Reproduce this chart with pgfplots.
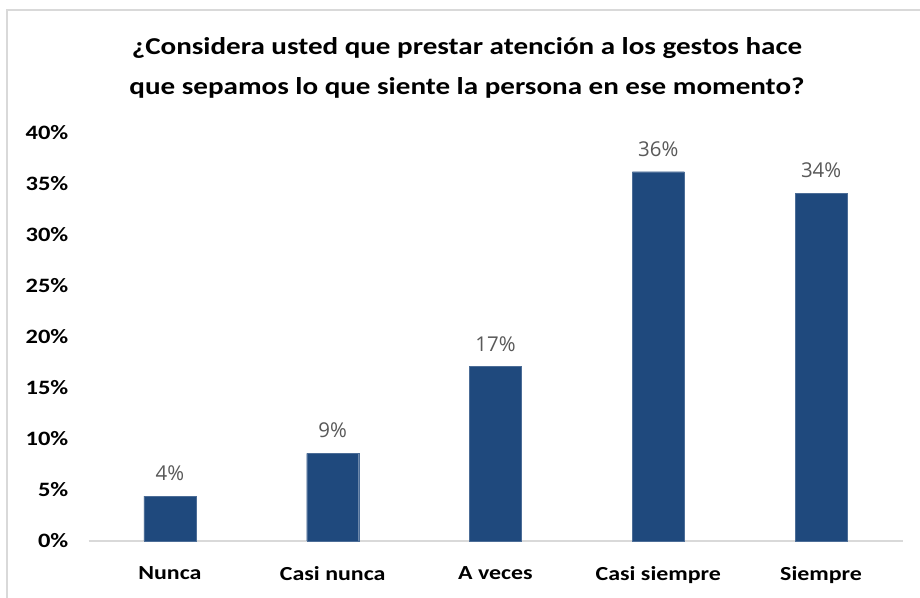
\documentclass[border=0pt]{standalone}
\usepackage{fontspec}
\setmainfont{Carlito}[FakeStretch=1.2]
\newfontfamily\labelfont{Open Sans}
\usepackage{pgfplots}
\pgfplotsset{compat=1.18}
\definecolor{barblue}{HTML}{1F497D}
\definecolor{axisgray}{HTML}{D9D9D9}
\definecolor{lblgray}{HTML}{595959}
\begin{document}
\begin{tikzpicture}[x=1bp,y=1bp]
\useasboundingbox (0,0) rectangle (920,598);
\fill[white] (0,0) rectangle (920,598);
\draw[color=axisgray, line width=1.5bp] (7,0) -- (7,588) -- (920,588);
\node[align=center, font=\bfseries\fontsize{24.3}{40}\selectfont] at (467,530)
  {¿Considera usted que prestar atención a los gestos hace\\que sepamos lo que siente la persona en ese momento?};
\begin{axis}[at={(88.5bp,57bp)}, anchor=south west, scale only axis,
  width=814bp, height=408bp,
  xmin=-0.5, xmax=4.5, ymin=0, ymax=40,
  ytick={0,5,...,40},
  yticklabel={\pgfmathprintnumber{\tick}\%},
  xtick={0,...,4},
  xticklabels={Nunca, Casi nunca, A veces, Casi siempre, Siempre},
  axis line style={draw=none}, tick style={draw=none},
  yticklabel style={font=\bfseries\fontsize{20.5}{20}\selectfont, inner sep=0pt, anchor=east, xshift=-20bp},
  xticklabel style={font=\bfseries\fontsize{20}{20}\selectfont, inner sep=0pt, anchor=north, yshift=-21bp},
  /pgf/number format/assume math mode=true,
  ybar, bar width=52bp, bar shift=0pt,
  nodes near coords={\pgfmathprintnumber[fixed,precision=0]{\pgfplotspointmeta}\%},
  nodes near coords style={font=\labelfont\fontsize{20.5}{20}\selectfont, text=lblgray, inner sep=0pt, anchor=south, yshift=15bp},
  clip=false,
]
\draw[axisgray, line width=1.2bp] (axis cs:-0.5,0) -- (axis cs:4.5,0);
\addplot[fill=barblue, draw=barblue!80!white] coordinates {(0,4.4) (1,8.6) (2,17.1) (3,36.2) (4,34.1)};
\end{axis}
\end{tikzpicture}
\end{document}
